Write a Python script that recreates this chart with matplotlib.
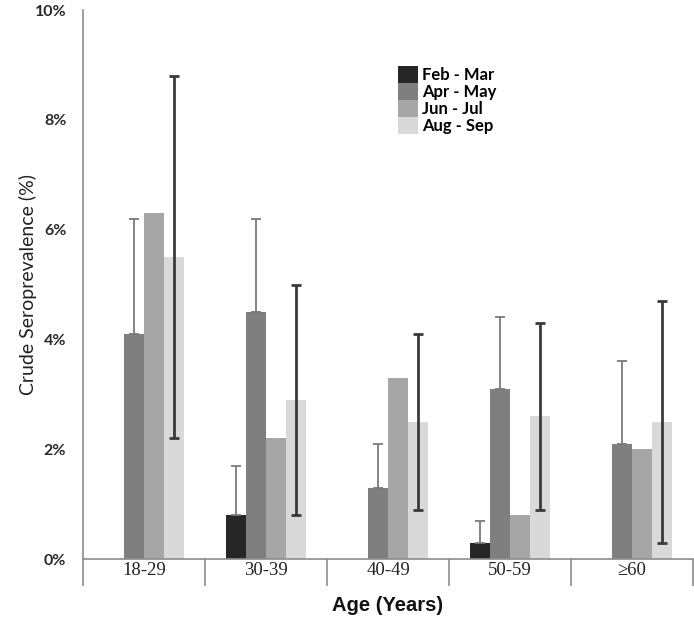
"""Crude seroprevalence by age group and sampling period."""

import matplotlib

matplotlib.use("Agg")
import matplotlib.pyplot as plt
import numpy as np
from matplotlib.patches import Patch

# data (percent)
age_groups = ["18-29", "30-39", "40-49", "50-59", "\u226560"]
periods = ["Feb - Mar", "Apr - May", "Jun - Jul", "Aug - Sep"]

feb_mar = [np.nan, 0.8, np.nan, 0.3, np.nan]
apr_may = [4.1, 4.5, 1.3, 3.1, 2.1]
jun_jul = [6.3, 2.2, 3.3, 0.8, 2.0]
aug_sep = [5.5, 2.9, 2.5, 2.6, 2.5]

feb_mar_upper = [np.nan, 1.7, np.nan, 0.7, np.nan]
apr_may_upper = [6.2, 6.2, 2.1, 4.4, 3.6]
aug_sep_lower = [2.2, 0.8, 0.9, 0.9, 0.3]
aug_sep_upper = [8.8, 5.0, 4.1, 4.3, 4.7]

colors = ["#262626", "#7f7f7f", "#a6a6a6", "#d9d9d9"]
axis_grey = "#8c8c8c"

fig = plt.figure(figsize=(6.94, 6.26), dpi=100)
ax = fig.add_axes([0.1196, 0.107, 0.879, 0.877])

x = np.arange(len(age_groups)) + 0.5
w = 0.164
series = [feb_mar, apr_may, jun_jul, aug_sep]
for i, (vals, col) in enumerate(zip(series, colors)):
    ax.bar(x + (i - 1.5) * w, np.nan_to_num(vals), width=w, color=col,
           edgecolor="none", zorder=2)

# upper-only error bars for the first two periods
for i, (vals, upper) in [(0, (feb_mar, feb_mar_upper)), (1, (apr_may, apr_may_upper))]:
    v = np.array(vals)
    up = np.array(upper) - v
    ax.errorbar(x + (i - 1.5) * w, v, yerr=[np.zeros_like(v), up], fmt="none",
                ecolor="#7a7a7a", elinewidth=1.3, capsize=3.3, capthick=1.3, zorder=3)

# full interval for Aug - Sep
v = np.array(aug_sep)
ax.errorbar(x + 1.5 * w, v, yerr=[v - np.array(aug_sep_lower), np.array(aug_sep_upper) - v],
            fmt="none", ecolor="#3a3a3a", elinewidth=2.0, capsize=3.3, capthick=2.0, zorder=3)

ax.set_xlim(0, len(age_groups))
ax.set_ylim(0, 10)

for s in ["top", "right"]:
    ax.spines[s].set_visible(False)
for s in ["left", "bottom"]:
    ax.spines[s].set_color(axis_grey)
    ax.spines[s].set_linewidth(1.2)

ax.set_yticks(np.arange(0, 11, 2))
ax.set_yticklabels([f"{t}%" for t in range(0, 11, 2)], fontfamily="Lato",
                   fontweight="bold", fontsize=11.5, color="#2a2a2a")
ax.tick_params(axis="y", length=0, pad=12)

# category separators below the axis
ax.set_xticks(np.arange(len(age_groups) + 1), minor=False)
ax.set_xticklabels([])
ax.tick_params(axis="x", which="major", direction="out", length=19.5, width=1.2,
               color=axis_grey)
ax.set_xticks(x, minor=True)
ax.set_xticklabels(age_groups, minor=True, fontfamily="Liberation Serif", fontsize=13.5,
                   color="#222222")
ax.tick_params(axis="x", which="minor", length=0, pad=2)

ax.set_ylabel("Crude Seroprevalence (%)", fontfamily="Lato", fontsize=14,
              color="#222222")
ax.yaxis.set_label_coords(-0.075, 0.5)
ax.set_xlabel("Age (Years)", fontfamily="Liberation Sans", fontweight="bold",
              fontsize=14.5, color="#111111")
ax.xaxis.set_label_coords(0.5, -0.068)

handles = [Patch(facecolor=c, edgecolor="none") for c in colors]
leg = ax.legend(handles, periods, loc="upper left", bbox_to_anchor=(0.497, 0.92),
                frameon=False, handlelength=1.2, handleheight=1.2, handletextpad=0.25,
                labelspacing=0.0, borderpad=0.2,
                prop={"family": "Lato", "weight": "bold", "size": 12})

fig.savefig("out.png", dpi=100)
